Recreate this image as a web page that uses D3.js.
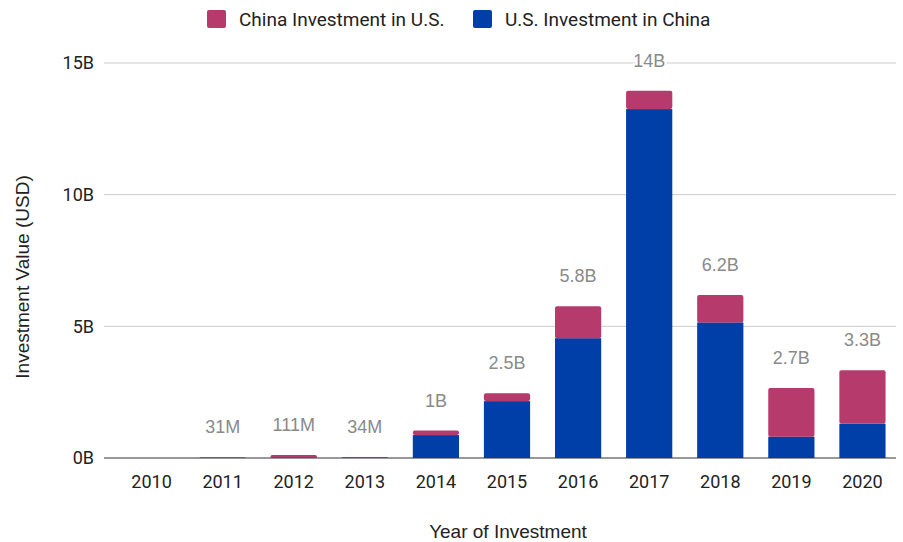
<!DOCTYPE html>
<html>
<head>
<meta charset="utf-8">
<script src="https://cdn.jsdelivr.net/npm/d3@7"></script>
<style>
  html, body { margin: 0; padding: 0; background: #fff; }
  svg { display: block; font-family: Roboto, "Noto Sans", sans-serif; }
  .sans { font-family: "Liberation Sans", Arial, sans-serif; }
</style>
</head>
<body>
<svg id="chart" width="903" height="542"></svg>
<script>
// Annual investment, in millions of USD
const years = ["2010","2011","2012","2013","2014","2015","2016","2017","2018","2019","2020"];
const usInChina = [0, 16, 21, 18, 870, 2160, 4550, 13250, 5150, 810, 1300];
const chinaInUS = [0, 15, 90, 16, 170, 300, 1210, 700, 1040, 1850, 2030];
const yTicks = [0, 5000, 10000, 15000];
const seriesNames = ["China Investment in U.S.", "U.S. Investment in China"];
const colors = { us: "#003ea8", china: "#b73a6c" };

const svg = d3.select("#chart");
const plot = { left: 104, right: 896, top: 63, bottom: 458 };

const rows = years.map((y, i) => ({ year: y, us: usInChina[i], china: chinaInUS[i] }));
const stacked = d3.stack().keys(["us", "china"])(rows);

const x = d3.scaleBand().domain(years).range([116, 898]).paddingInner(0.35).paddingOuter(0.175);
const y = d3.scaleLinear().domain([0, 15000]).range([plot.bottom, plot.top]);

// totals under 1B in millions, otherwise two significant digits in billions
const fmt = v => {
  if (v < 1000) return Math.round(v) + "M";
  return +(v / 1000).toPrecision(2) + "B";
};

// gridlines
svg.append("g").selectAll("line").data(yTicks.filter(t => t > 0)).join("line")
  .attr("x1", plot.left).attr("x2", plot.right)
  .attr("y1", d => y(d)).attr("y2", d => y(d))
  .attr("stroke", "#cccccc").attr("stroke-width", 1);

// y tick labels
svg.append("g").selectAll("text").data(yTicks).join("text")
  .attr("x", 94).attr("y", d => y(d)).attr("dy", "0.35em")
  .attr("text-anchor", "end").attr("font-size", 18).attr("fill", "#222")
  .text(d => (d / 1000) + "B");

// stacked bars
const layer = svg.append("g").selectAll("g").data(stacked).join("g")
  .attr("fill", d => colors[d.key]);
layer.selectAll("rect").data(d => d.map(s => ({ s, key: d.key }))).join("rect")
  .attr("x", d => x(d.s.data.year))
  .attr("width", x.bandwidth())
  .attr("y", d => y(d.s[1]))
  .attr("height", d => Math.max(0, y(d.s[0]) - y(d.s[1])))
  .attr("rx", d => d.key === "china" ? 2 : 0);

// baseline
svg.append("line")
  .attr("x1", plot.left).attr("x2", plot.right)
  .attr("y1", y(0)).attr("y2", y(0))
  .attr("stroke", "#333").attr("stroke-width", 1);

// total labels
svg.append("g").attr("class", "sans").selectAll("text")
  .data(rows.filter(r => r.us + r.china > 0)).join("text")
  .attr("x", d => x(d.year) + x.bandwidth() / 2)
  .attr("y", d => y(d.us + d.china) - 24)
  .attr("text-anchor", "middle").attr("font-size", 18).attr("fill", "#8a8a8a")
  .attr("stroke", "#fff").attr("stroke-width", 4).attr("paint-order", "stroke")
  .text(d => fmt(d.us + d.china));

// x tick labels
svg.append("g").selectAll("text").data(years).join("text")
  .attr("x", d => x(d) + x.bandwidth() / 2).attr("y", 488)
  .attr("text-anchor", "middle").attr("font-size", 18).attr("fill", "#222")
  .text(d => d);

// axis titles
svg.append("text").attr("class", "sans").attr("x", 508).attr("y", 538)
  .attr("text-anchor", "middle").attr("font-size", 19).attr("fill", "#222")
  .text("Year of Investment");
svg.append("text").attr("class", "sans")
  .attr("transform", "translate(29,277) rotate(-90)")
  .attr("text-anchor", "middle").attr("font-size", 19).attr("fill", "#222")
  .text("Investment Value (USD)");

// legend
const legend = [
  { name: seriesNames[0], color: colors.china, x: 207 },
  { name: seriesNames[1], color: colors.us, x: 473 }
];
const lg = svg.append("g").selectAll("g").data(legend).join("g")
  .attr("transform", d => `translate(${d.x},10)`);
lg.append("rect").attr("width", 19).attr("height", 18).attr("rx", 2).attr("fill", d => d.color);
lg.append("text").attr("x", 32).attr("y", 9).attr("dy", "0.35em")
  .attr("font-size", 19).attr("fill", "#222").text(d => d.name);
</script>
</body>
</html>
